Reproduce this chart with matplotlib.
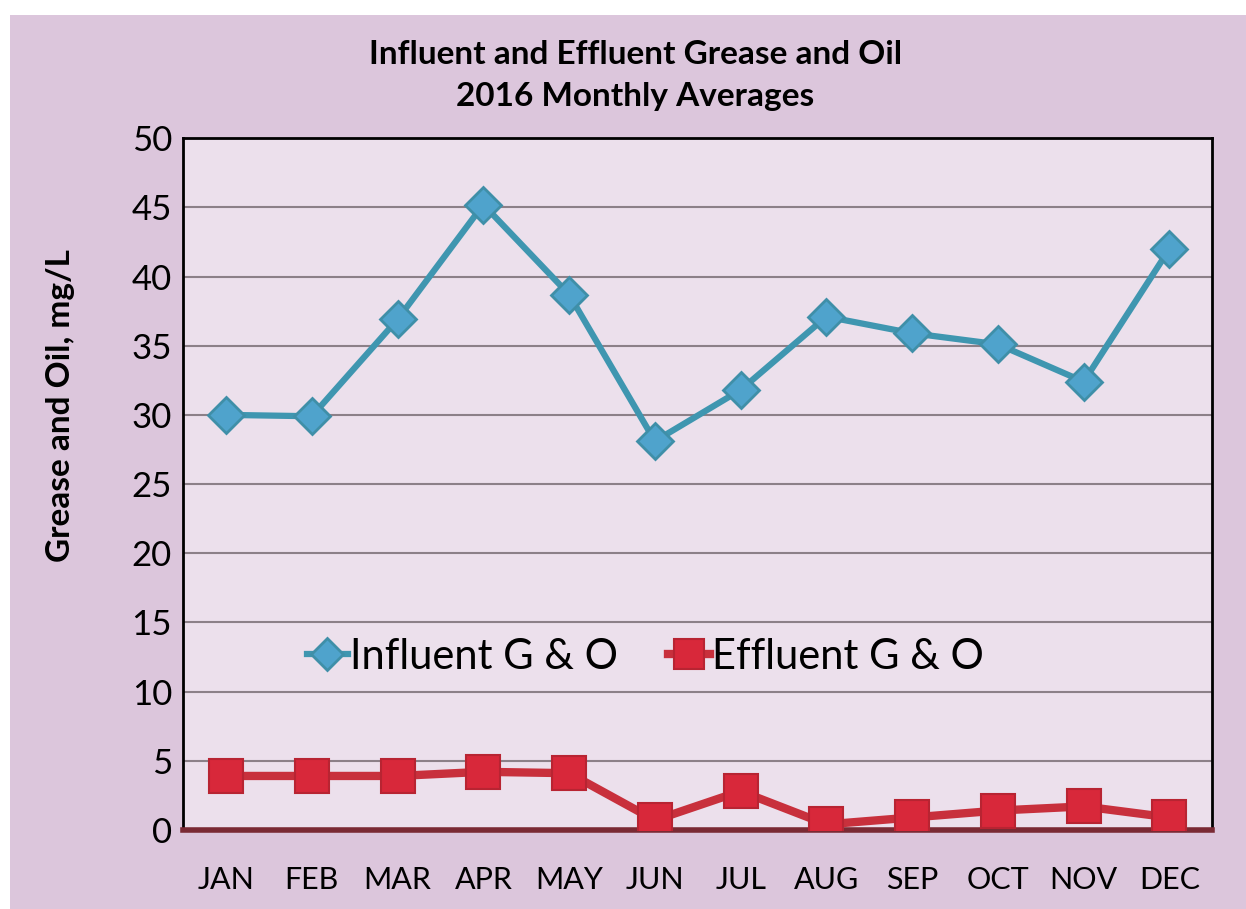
import matplotlib.pyplot as plt
from matplotlib.patches import Rectangle

months = ["JAN", "FEB", "MAR", "APR", "MAY", "JUN",
          "JUL", "AUG", "SEP", "OCT", "NOV", "DEC"]
influent = [30.0, 29.9, 36.9, 45.2, 38.7, 28.1, 31.8, 37.1, 35.9, 35.1, 32.4, 42.0]
effluent = [3.9, 3.9, 3.9, 4.2, 4.1, 0.7, 2.8, 0.4, 0.9, 1.4, 1.7, 0.9]
yticks = [0, 5, 10, 15, 20, 25, 30, 35, 40, 45, 50]

plt.rcParams["font.family"] = ["Lato", "DejaVu Sans"]

fig = plt.figure(figsize=(12.46, 9.09), dpi=100)
fig.patch.set_facecolor("#dcc6dc")
# white scan margins along the top and left edges
fig.patches.append(Rectangle((0, 0.983), 1, 0.017, transform=fig.transFigure,
                             facecolor="white", edgecolor="none"))
fig.patches.append(Rectangle((0, 0), 0.008, 1, transform=fig.transFigure,
                             facecolor="white", edgecolor="none"))

ax = fig.add_axes([0.147, 0.087, 0.826, 0.761])
ax.set_facecolor("#ece0ec")

x = list(range(len(months)))
ax.plot(x, influent, color="#3f96b0", lw=4.5, marker="D", ms=18,
        mfc="#4fa3cc", mec="#3f8fa8", mew=2, label="Influent G & O", zorder=3)
ax.plot(x, effluent, color="#c8303c", lw=6, marker="s", ms=24,
        mfc="#d8283a", mec="#b82432", mew=1.5, label="Effluent G & O", zorder=3)

ax.set_xlim(-0.5, 11.5)
ax.set_ylim(0, 50)
ax.set_yticks(yticks)
ax.set_xticks(x)
ax.set_xticklabels(months)
ax.tick_params(axis="y", labelsize=25, length=0, pad=8)
ax.tick_params(axis="x", labelsize=22, length=0, pad=26)
ax.grid(axis="y", color="#8c8088", lw=1.5)
ax.set_axisbelow(True)

for side in ["left", "right", "top"]:
    ax.spines[side].set_color("black")
    ax.spines[side].set_linewidth(2)
ax.spines["bottom"].set_color("#7a2a34")
ax.spines["bottom"].set_linewidth(4)

ax.set_ylabel("Grease and Oil, mg/L", fontsize=24, fontweight="bold")
ax.yaxis.set_label_coords(-0.105, 0.614)

fig.text(0.51, 0.917, "Influent and Effluent Grease and Oil\n2016 Monthly Averages",
         ha="center", va="center", fontsize=24, fontweight="bold", linespacing=1.55)

ax.legend(loc="center", bbox_to_anchor=(0.449, 0.25), ncol=2, frameon=False,
          fontsize=30, handlelength=1.0, handletextpad=0.05, columnspacing=1.2,
          markerscale=0.9)

fig.savefig("out.png", dpi=100)
